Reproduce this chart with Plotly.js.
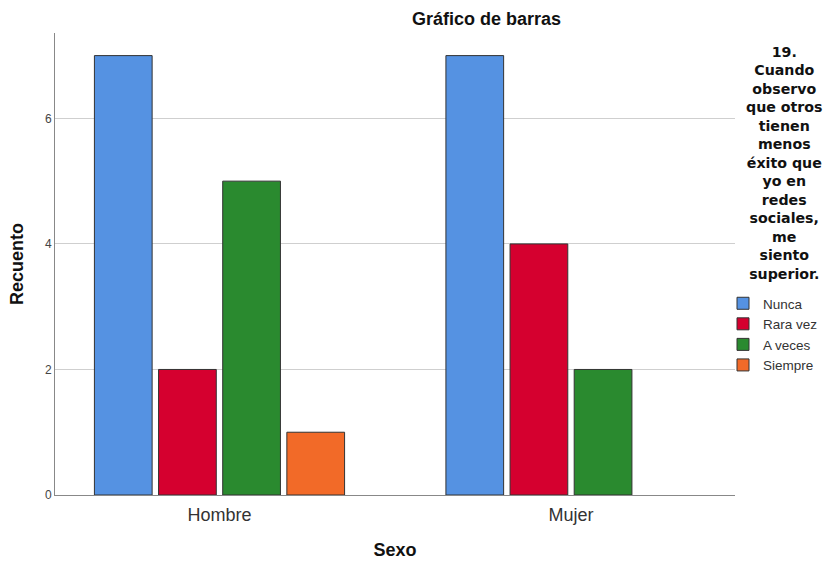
<!DOCTYPE html>
<html>
<head>
<meta charset="utf-8">
<script src="https://cdn.plot.ly/plotly-3.0.1.min.js"></script>
<style>html,body{margin:0;padding:0;background:#fff;}#chart{width:828px;height:562px;}</style>
</head>
<body>
<div id="chart"></div>
<script>
const categories = ["Hombre", "Mujer"];
const seriesNames = ["Nunca", "Rara vez", "A veces", "Siempre"];
const nunca = [7, 7];
const raraVez = [2, 4];
const aVeces = [5, 2];
const siempre = [1, null];
const colors = ["#5592e2", "#d5002f", "#2a8a2f", "#f26a28"];
const yTicks = [0, 2, 4, 6];
const legendTitleLines = ["19.", "Cuando", "observo", "que otros", "tienen", "menos", "éxito que", "yo en", "redes", "sociales,", "me", "siento", "superior."];

const values = [nunca, raraVez, aVeces, siempre];
const font = "Arial, 'Liberation Sans', sans-serif";
const wideFont = "'DejaVu Sans', Verdana, sans-serif";

const M = {l: 55, r: 93, t: 33, b: 67};
const W = 828, H = 562;
const plotH = H - M.t - M.b;
const plotW = W - M.l - M.r;

const traces = seriesNames.map((n, i) => ({
  type: "bar",
  name: n,
  x: categories,
  y: values[i],
  marker: {color: colors[i], line: {color: "#333333", width: 1}},
  hoverinfo: "skip"
}));

const layout = {
  width: W, height: H,
  margin: Object.assign({autoexpand: false}, M),
  paper_bgcolor: "#ffffff",
  plot_bgcolor: "#ffffff",
  font: {family: font, color: "#222"},
  barmode: "group",
  bargap: 0.27,
  bargroupgap: 0.1,
  showlegend: true,
  title: {
    text: "<b>Gráfico de barras</b>",
    font: {family: font, size: 18, color: "#111"},
    xref: "container", x: 486.5 / W, xanchor: "center",
    yref: "container", y: 1 - 19 / H, yanchor: "middle"
  },
  xaxis: {
    type: "category",
    range: [-0.468, 1.4666],
    showline: true, linecolor: "#888", linewidth: 1,
    ticks: "", showgrid: false, zeroline: false,
    tickfont: {family: font, size: 18, color: "#333"},
    ticklabelstandoff: 3,
    title: {text: "<b>Sexo</b>", font: {family: font, size: 18, color: "#111"}, standoff: 19}
  },
  yaxis: {
    range: [0, 7.36],
    tickvals: yTicks,
    ticktext: yTicks.map(String),
    showline: true, linecolor: "#888", linewidth: 1,
    ticks: "", showgrid: true, gridcolor: "#cfcfcf", gridwidth: 1,
    zeroline: false,
    tickfont: {family: font, size: 12, color: "#444"},
    title: {text: "<b>Recuento</b>", font: {family: font, size: 18, color: "#111"}, standoff: 16}
  },
  legend: {
    xref: "container", yref: "container",
    x: 723 / W, y: 1 - 288 / H,
    xanchor: "left", yanchor: "top",
    font: {family: font, size: 13.5, color: "#333"},
    tracegroupgap: 0,
    itemwidth: 30,
    bgcolor: "rgba(0,0,0,0)"
  },
  annotations: [{
    text: "<b>" + legendTitleLines.join("<br>") + "</b>",
    xref: "paper", yref: "paper",
    x: (784 - M.l) / plotW, y: (H - M.b - 42) / plotH,
    xanchor: "center", yanchor: "top",
    align: "center", showarrow: false,
    font: {family: wideFont, size: 14.2, color: "#111"}
  }]
};

Plotly.newPlot("chart", traces, layout, {displayModeBar: false, staticPlot: true});
</script>
</body>
</html>
